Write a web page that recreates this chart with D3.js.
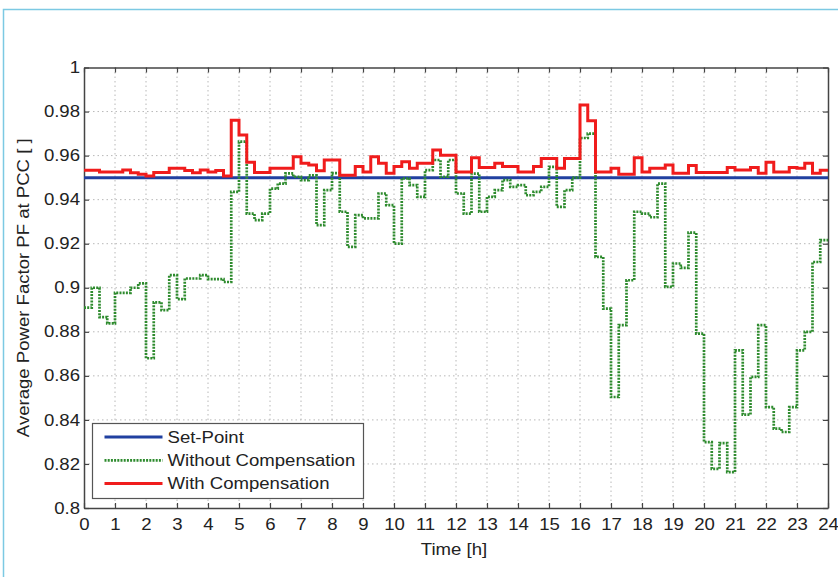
<!DOCTYPE html>
<html>
<head>
<meta charset="utf-8">
<script src="https://cdn.jsdelivr.net/npm/d3@7"></script>
<style>
  body { margin: 0; background: #fff; }
  text { font-family: "Liberation Sans", Arial, Helvetica, sans-serif; fill: #222; }
</style>
</head>
<body>
<div id="chart"></div>
<script>
(function() {

// tick labels
const xTicks = [0,1,2,3,4,5,6,7,8,9,10,11,12,13,14,15,16,17,18,19,20,21,22,23,24];
const yTicks = [0.8,0.82,0.84,0.86,0.88,0.9,0.92,0.94,0.96,0.98,1];

// one value per 15 minute interval (96 values)
const stepHours = 0.25;
const setPoint = 0.95;

const withoutComp = [
  0.891,0.900,0.8867,0.8838,0.8977,0.8977,0.900,0.902,
  0.868,0.8934,0.8898,0.9057,0.8948,0.9042,0.9042,0.9057,
  0.9039,0.9039,0.9026,0.9435,0.9663,0.9337,0.9307,0.9337,
  0.945,0.9473,0.9519,0.9504,0.9489,0.951,0.9284,0.9443,
  0.952,0.9345,0.9186,0.933,0.9315,0.9315,0.9428,0.9375,
  0.920,0.9496,0.9466,0.9413,0.9534,0.958,0.9504,0.958,
  0.9428,0.9337,0.9518,0.9345,0.9413,0.9443,0.9489,0.9458,
  0.9466,0.942,0.9435,0.9458,0.9549,0.9367,0.9443,0.950,
  0.968,0.970,0.914,0.8905,0.8504,0.883,0.9034,0.9345,
  0.9337,0.932,0.9473,0.9004,0.911,0.909,0.925,0.8792,
  0.8299,0.8178,0.8295,0.8163,0.8716,0.8424,0.8595,0.883,
  0.8458,0.836,0.8345,0.8458,0.8716,0.880,0.9117,0.9216
];

const withComp = [
  0.9534,0.9534,0.9526,0.9526,0.9526,0.9535,0.9522,0.9515,
  0.9507,0.9523,0.9523,0.9542,0.9542,0.9532,0.9522,0.9535,
  0.9525,0.9532,0.9507,0.976,0.9693,0.957,0.9523,0.9523,
  0.9542,0.9542,0.9542,0.9595,0.9565,0.9557,0.9531,0.958,
  0.958,0.9511,0.9511,0.955,0.9526,0.9595,0.9565,0.952,
  0.955,0.9572,0.9542,0.9565,0.9565,0.9625,0.9602,0.9602,
  0.9526,0.9526,0.959,0.9546,0.9546,0.9565,0.955,0.955,
  0.9526,0.9526,0.955,0.9587,0.9587,0.9542,0.9587,0.9587,
  0.983,0.9758,0.9526,0.9526,0.9542,0.9515,0.9515,0.959,
  0.9526,0.9542,0.9542,0.9557,0.952,0.952,0.9555,0.9523,
  0.9523,0.9523,0.9523,0.9546,0.9535,0.9535,0.9546,0.952,
  0.957,0.9526,0.9526,0.9546,0.9542,0.9565,0.952,0.9534
];

const seriesNames = ["Set-Point", "Without Compensation", "With Compensation"];
const seriesColors = ["#2040a0", "#2e8b2e", "#f01c1c"];

const W = 838, H = 577;
const margin = { top: 67.5, right: 10, bottom: 69, left: 84 };
const width = 828 - margin.left;
const height = H - margin.top - margin.bottom;
const fontSize = 16;
const stretch = 1.16; // the original lettering is a bit wider than Arial

const root = d3.select("#chart")
  .append("svg")
  .attr("width", W)
  .attr("height", H);

// light blue frame around the figure
root.append("rect")
  .attr("x", 3.5).attr("y", 9.5)
  .attr("width", 900).attr("height", 700)
  .attr("fill", "none")
  .attr("stroke", "#7cc9e3")
  .attr("stroke-width", 1.5);

const svg = root.append("g")
  .attr("transform", `translate(${margin.left},${margin.top})`);

const x = d3.scaleLinear().domain([0, 24]).range([0, width]);
const y = d3.scaleLinear().domain([0.8, 1]).range([height, 0]);

// grid
svg.append("g")
  .selectAll("line")
  .data(xTicks.slice(1, -1))
  .join("line")
  .attr("x1", d => x(d)).attr("x2", d => x(d))
  .attr("y1", 0).attr("y2", height)
  .attr("stroke", "#b8b8b8")
  .attr("stroke-dasharray", "1.5,3");
svg.append("g")
  .selectAll("line")
  .data(yTicks.slice(1, -1))
  .join("line")
  .attr("y1", d => y(d)).attr("y2", d => y(d))
  .attr("x1", 0).attr("x2", width)
  .attr("stroke", "#b8b8b8")
  .attr("stroke-dasharray", "1.5,3");

const fmt = d => String(+d.toFixed(2));

// axes, MATLAB style ticks pointing inwards
const axB = svg.append("g")
  .attr("transform", `translate(0,${height})`)
  .call(d3.axisBottom(x).tickValues(xTicks).tickSizeInner(-5).tickSizeOuter(0).tickPadding(11).tickFormat(fmt));
const axL = svg.append("g")
  .call(d3.axisLeft(y).tickValues(yTicks).tickSizeInner(-5).tickSizeOuter(0).tickPadding(4).tickFormat(fmt));
const axT = svg.append("g")
  .call(d3.axisTop(x).tickValues(xTicks).tickSizeInner(-5).tickSizeOuter(0).tickFormat(""));
const axR = svg.append("g")
  .attr("transform", `translate(${width},0)`)
  .call(d3.axisRight(y).tickValues(yTicks).tickSizeInner(-5).tickSizeOuter(0).tickFormat(""));

[axB, axL, axT, axR].forEach(a => {
  a.select(".domain").attr("stroke", "#444").attr("stroke-width", 1.5);
  a.selectAll(".tick line").attr("stroke", "#444").attr("stroke-width", 1.2);
  a.selectAll("text").attr("font-size", fontSize).attr("fill", "#222");
});

// step lines
const steps = vals => vals.map((v, i) => [i * stepHours, v]).concat([[24, vals[vals.length - 1]]]);
const line = d3.line()
  .x(d => x(d[0]))
  .y(d => y(d[1]))
  .curve(d3.curveStepAfter);

svg.append("path")
  .datum([[0, setPoint], [24, setPoint]])
  .attr("d", line)
  .attr("fill", "none")
  .attr("stroke", seriesColors[0])
  .attr("stroke-width", 3);

svg.append("path")
  .datum(steps(withoutComp))
  .attr("d", line)
  .attr("fill", "none")
  .attr("stroke", seriesColors[1])
  .attr("stroke-width", 2.7)
  .attr("stroke-dasharray", "2,1.2");

svg.append("path")
  .datum(steps(withComp))
  .attr("d", line)
  .attr("fill", "none")
  .attr("stroke", seriesColors[2])
  .attr("stroke-width", 3);

// legend
const lg = svg.append("g")
  .attr("transform", `translate(${92.5 - margin.left},${423.5 - margin.top})`);
lg.append("rect")
  .attr("width", 271).attr("height", 75)
  .attr("fill", "#fff")
  .attr("stroke", "#555")
  .attr("stroke-width", 1.2);
seriesNames.forEach((name, i) => {
  const yy = 13.5 + i * 23.3;
  lg.append("line")
    .attr("x1", 12).attr("x2", 70)
    .attr("y1", yy).attr("y2", yy)
    .attr("stroke", seriesColors[i])
    .attr("stroke-width", i === 1 ? 2.7 : 3)
    .attr("stroke-dasharray", i === 1 ? "2,1.2" : null);
  lg.append("text")
    .attr("x", 75).attr("y", yy)
    .attr("dy", "0.36em")
    .attr("font-size", fontSize)
    .text(name);
});

// axis titles
svg.append("text")
  .attr("x", width / 2 - 2)
  .attr("y", height + 47)
  .attr("text-anchor", "middle")
  .attr("font-size", fontSize)
  .text("Time [h]");

svg.append("text")
  .attr("transform", `translate(${23 - margin.left},${height / 2}) rotate(-90)`)
  .attr("text-anchor", "middle")
  .attr("dy", "0.35em")
  .attr("font-size", fontSize)
  .text("Average Power Factor PF at PCC [ ]");

// widen the lettering
root.selectAll("text").each(function() {
  const len = this.getComputedTextLength();
  if (len > 0) {
    d3.select(this)
      .attr("textLength", len * stretch)
      .attr("lengthAdjust", "spacingAndGlyphs");
  }
});

})();
</script>
</body>
</html>
